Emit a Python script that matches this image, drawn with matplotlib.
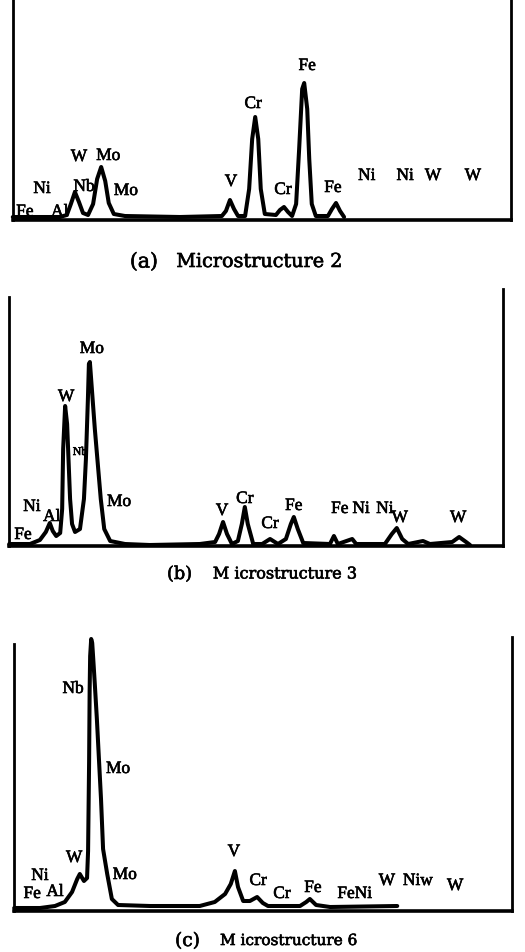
import matplotlib
matplotlib.use("Agg")
import matplotlib.pyplot as plt
import matplotlib.patheffects as pe

W_PX, H_PX = 525, 953
plt.rcParams["font.family"] = ["Liberation Serif", "Noto Sans CJK SC", "DejaVu Serif"]

# ---- (a) Microstructure 2 : energy (keV) vs counts (arb.) ----
a_energy = [0.61, 1.54, 1.68, 1.76, 1.84, 1.92, 2.00, 2.10, 2.20, 2.28, 2.36, 2.44, 2.51, 2.61,
            2.83, 3.92, 4.75, 4.83, 4.91, 4.99, 5.07, 5.21, 5.29, 5.35, 5.41, 5.47, 5.52, 5.60,
            5.82, 5.90, 5.98, 6.06, 6.14, 6.22, 6.28, 6.34, 6.38, 6.44, 6.48, 6.53, 6.61, 6.85,
            6.93, 7.01, 7.09, 7.17]
a_counts = [3, 3, 5, 16, 28, 18, 7, 5, 16, 41, 53, 39, 17, 6,
            4, 3, 4, 9, 20, 11, 4, 4, 31, 81, 103, 81, 31, 6,
            5, 10, 13, 8, 4, 16, 71, 131, 137, 111, 61, 16, 4, 4,
            11, 17, 9, 3]
a_labels = ["Fe", "Al", "Ni", "Nb", "W", "Mo", "Mo", "V", "Cr", "Cr", "Fe", "Fe",
            "Ni", "Ni", "W", "W"]
a_label_e = [0.85, 1.54, 1.19, 2.02, 1.92, 2.50, 2.85, 4.93, 5.37, 5.96, 6.44, 6.95,
             7.62, 8.38, 8.93, 9.72]
a_label_c = [8, 8, 31, 33, 63, 64, 29, 38, 116, 30, 154, 32, 44, 44, 44, 44]

# ---- (b) Microstructure 3 ----
b_energy = [0.59, 1.01, 1.21, 1.33, 1.41, 1.47, 1.54, 1.62, 1.66, 1.68, 1.72, 1.76, 1.78, 1.82,
            1.86, 1.92, 2.02, 2.10, 2.14, 2.18, 2.20, 2.22, 2.26, 2.32, 2.38, 2.44, 2.51, 2.63,
            2.93, 3.43, 4.44, 4.75, 4.83, 4.91, 4.99, 5.09, 5.21, 5.29, 5.35, 5.41, 5.52, 5.70,
            5.86, 6.02, 6.18, 6.28, 6.34, 6.42, 6.53, 7.07, 7.15, 7.23, 7.52, 7.60, 8.18, 8.32,
            8.42, 8.53, 8.65, 8.95, 9.09, 9.54, 9.68, 9.82, 9.90]
b_counts = [2, 2, 6, 14, 23, 15, 10, 13, 37, 97, 140, 122, 97, 47,
            22, 14, 17, 47, 87, 147, 182, 184, 157, 117, 82, 47, 17, 5,
            2, 1, 2, 4, 12, 24, 12, 2, 5, 22, 39, 22, 2, 2,
            7, 2, 7, 22, 29, 17, 3, 2, 10, 2, 7, 2, 2, 12,
            18, 7, 2, 5, 2, 4, 9, 4, 1]
b_labels = ["Fe", "Ni", "Al", "W", "Nb", "Mo", "Mo", "V", "Cr", "Cr", "Fe", "Fe",
            "Ni", "Ni", "W", "W"]
b_label_e = [0.87, 1.05, 1.45, 1.74, 2.02, 2.26, 2.81, 4.89, 5.35, 5.86, 6.34, 7.27,
             7.70, 8.18, 8.48, 9.66]
b_label_c = [11, 39, 29, 149, 94, 197, 44, 35, 47, 22, 40, 37, 37, 37, 28, 28]

# ---- (c) Microstructure 6 ----
c_energy = [0.68, 1.18, 1.47, 1.66, 1.80, 1.90, 1.95, 2.03, 2.09, 2.11, 2.13, 2.14, 2.15, 2.17,
            2.19, 2.21, 2.24, 2.28, 2.32, 2.36, 2.40, 2.48, 2.57, 2.69, 3.31, 4.27, 4.56, 4.76,
            4.87, 4.95, 5.01, 5.11, 5.24, 5.38, 5.49, 5.59, 6.21, 6.33, 6.40, 6.52, 6.79, 8.09]
c_counts = [3, 3, 5, 9, 19, 32, 37, 30, 33, 60, 150, 220, 255, 272,
            268, 252, 227, 192, 152, 112, 62, 37, 12, 6, 5, 5, 9, 17,
            27, 40, 24, 10, 10, 14, 8, 5, 5, 9, 12, 6, 4, 5]
c_labels = ["Fe", "Al", "Ni", "W", "Nb", "Mo", "Mo", "V", "Cr", "Cr", "Fe", "FeNi",
            "W", "Niw", "W"]
c_label_e = [1.03, 1.47, 1.18, 1.84, 1.82, 2.69, 2.82, 4.93, 5.40, 5.86, 6.46, 7.27,
             7.89, 8.49, 9.21]
c_label_c = [17, 19, 35, 53, 222, 142, 36, 59, 30, 17, 23, 17, 30, 30, 25]

fig = plt.figure(figsize=(W_PX / 100, H_PX / 100), dpi=100)
heavy = [pe.withStroke(linewidth=0.45, foreground="black")]
renderer = fig.canvas.get_renderer()


def fitted_text(x0, x1, y, s, size=12):
    """Put s between pixel columns x0..x1 (centred on row y), scaling the size to fit."""
    t = fig.text((x0 + x1) / 2 / W_PX, 1 - y / H_PX, s, ha="center", va="center",
                 fontsize=size, family=["DejaVu Serif", "Noto Sans CJK SC"],
                 path_effects=heavy)
    w = t.get_window_extent(renderer).width
    t.set_fontsize(size * (x1 - x0) / w)
    return t


def spectrum_panel(box, xlim, ylim, left_top, right_top, energy, counts,
                   labels, lab_e, lab_c, small=()):
    left, top, right, bottom = box
    ax = fig.add_axes([left / W_PX, 1 - bottom / H_PX,
                       (right - left) / W_PX, (bottom - top) / H_PX])
    ax.plot(energy, counts, color="black", lw=2.9, solid_joinstyle="round",
            solid_capstyle="round", clip_on=False)
    for lab, e, c in zip(labels, lab_e, lab_c):
        fs = 8.5 if lab in small else 12.5
        ax.text(e, c, lab, ha="center", va="center", fontsize=fs, color="black",
                path_effects=heavy)
    ax.set_xlim(*xlim)
    ax.set_ylim(*ylim)
    ax.set_xticks([])
    ax.set_yticks([])
    ax.spines["top"].set_visible(False)
    ax.spines["bottom"].set_linewidth(2.6)
    for side, h in (("left", left_top), ("right", right_top)):
        ax.spines[side].set_linewidth(2.0)
        ax.spines[side].set_bounds(0, h)
    return ax


spectrum_panel((13, 0, 511, 221), (0.614, 10.475), (0, 221), 221, 221,
               a_energy, a_counts, a_labels, a_label_e, a_label_c)
spectrum_panel((9, 290, 503, 547), (0.586, 10.566), (0, 257), 249, 257,
               b_energy, b_counts, b_labels, b_label_e, b_label_c, small=("Nb",))
spectrum_panel((14, 638, 512, 912), (0.677, 10.31), (0, 274), 267, 274,
               c_energy, c_counts, c_labels, c_label_e, c_label_c)

# captions: panel letter and sample name set apart, as in the typeset figure
fitted_text(130, 158, 263, "(a)")
fitted_text(177, 343, 263, "Microstructure 2")
fitted_text(167, 192, 575, "(b)")
fitted_text(213, 357, 575, "M icrostructure 3")
fitted_text(175, 200, 942, "(c)")
fitted_text(220, 357, 942, "M icrostructure 6")

fig.savefig("out.png", dpi=100)
